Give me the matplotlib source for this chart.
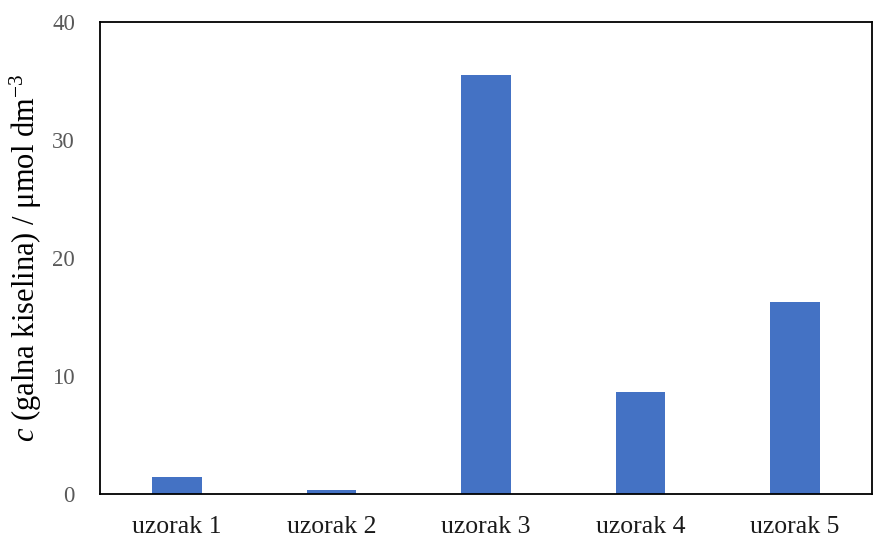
import matplotlib
matplotlib.use("Agg")
import matplotlib.pyplot as plt

categories = ["uzorak 1", "uzorak 2", "uzorak 3", "uzorak 4", "uzorak 5"]
values = [1.4, 0.3, 35.5, 8.65, 16.3]
yticks = [0, 10, 20, 30, 40]

plt.rcParams['font.family'] = ['Liberation Serif', 'DejaVu Serif']
plt.rcParams['mathtext.fontset'] = 'custom'
plt.rcParams['mathtext.rm'] = 'Liberation Serif'
plt.rcParams['mathtext.it'] = 'Liberation Serif:italic'

fig = plt.figure(figsize=(8.73, 5.38), dpi=100)
ax = fig.add_axes([100/873, 1-494/538, 772/873, 472/538])
x = range(len(categories))
ax.bar(x, values, width=0.32, color='#4472C4')
ax.set_xlim(-0.5, len(categories)-0.5)
ax.set_ylim(0, 40)
ax.set_yticks(yticks)
ax.set_xticks(list(x))
ax.set_xticklabels(categories)
ax.tick_params(axis='both', length=0, labelsize=16.5, colors='#595959')
ax.tick_params(axis='x', pad=16, labelsize=18.5, labelcolor='#1a1a1a')
ax.tick_params(axis='y', pad=18)
for s in ax.spines.values():
    s.set_linewidth(1.3)
    s.set_color('black')
ax.set_ylabel(r"$\it{c}$ (galna kiselina) / μmol dm$^{-3}$", fontsize=22, labelpad=6)
fig.savefig("out.png", dpi=100)
